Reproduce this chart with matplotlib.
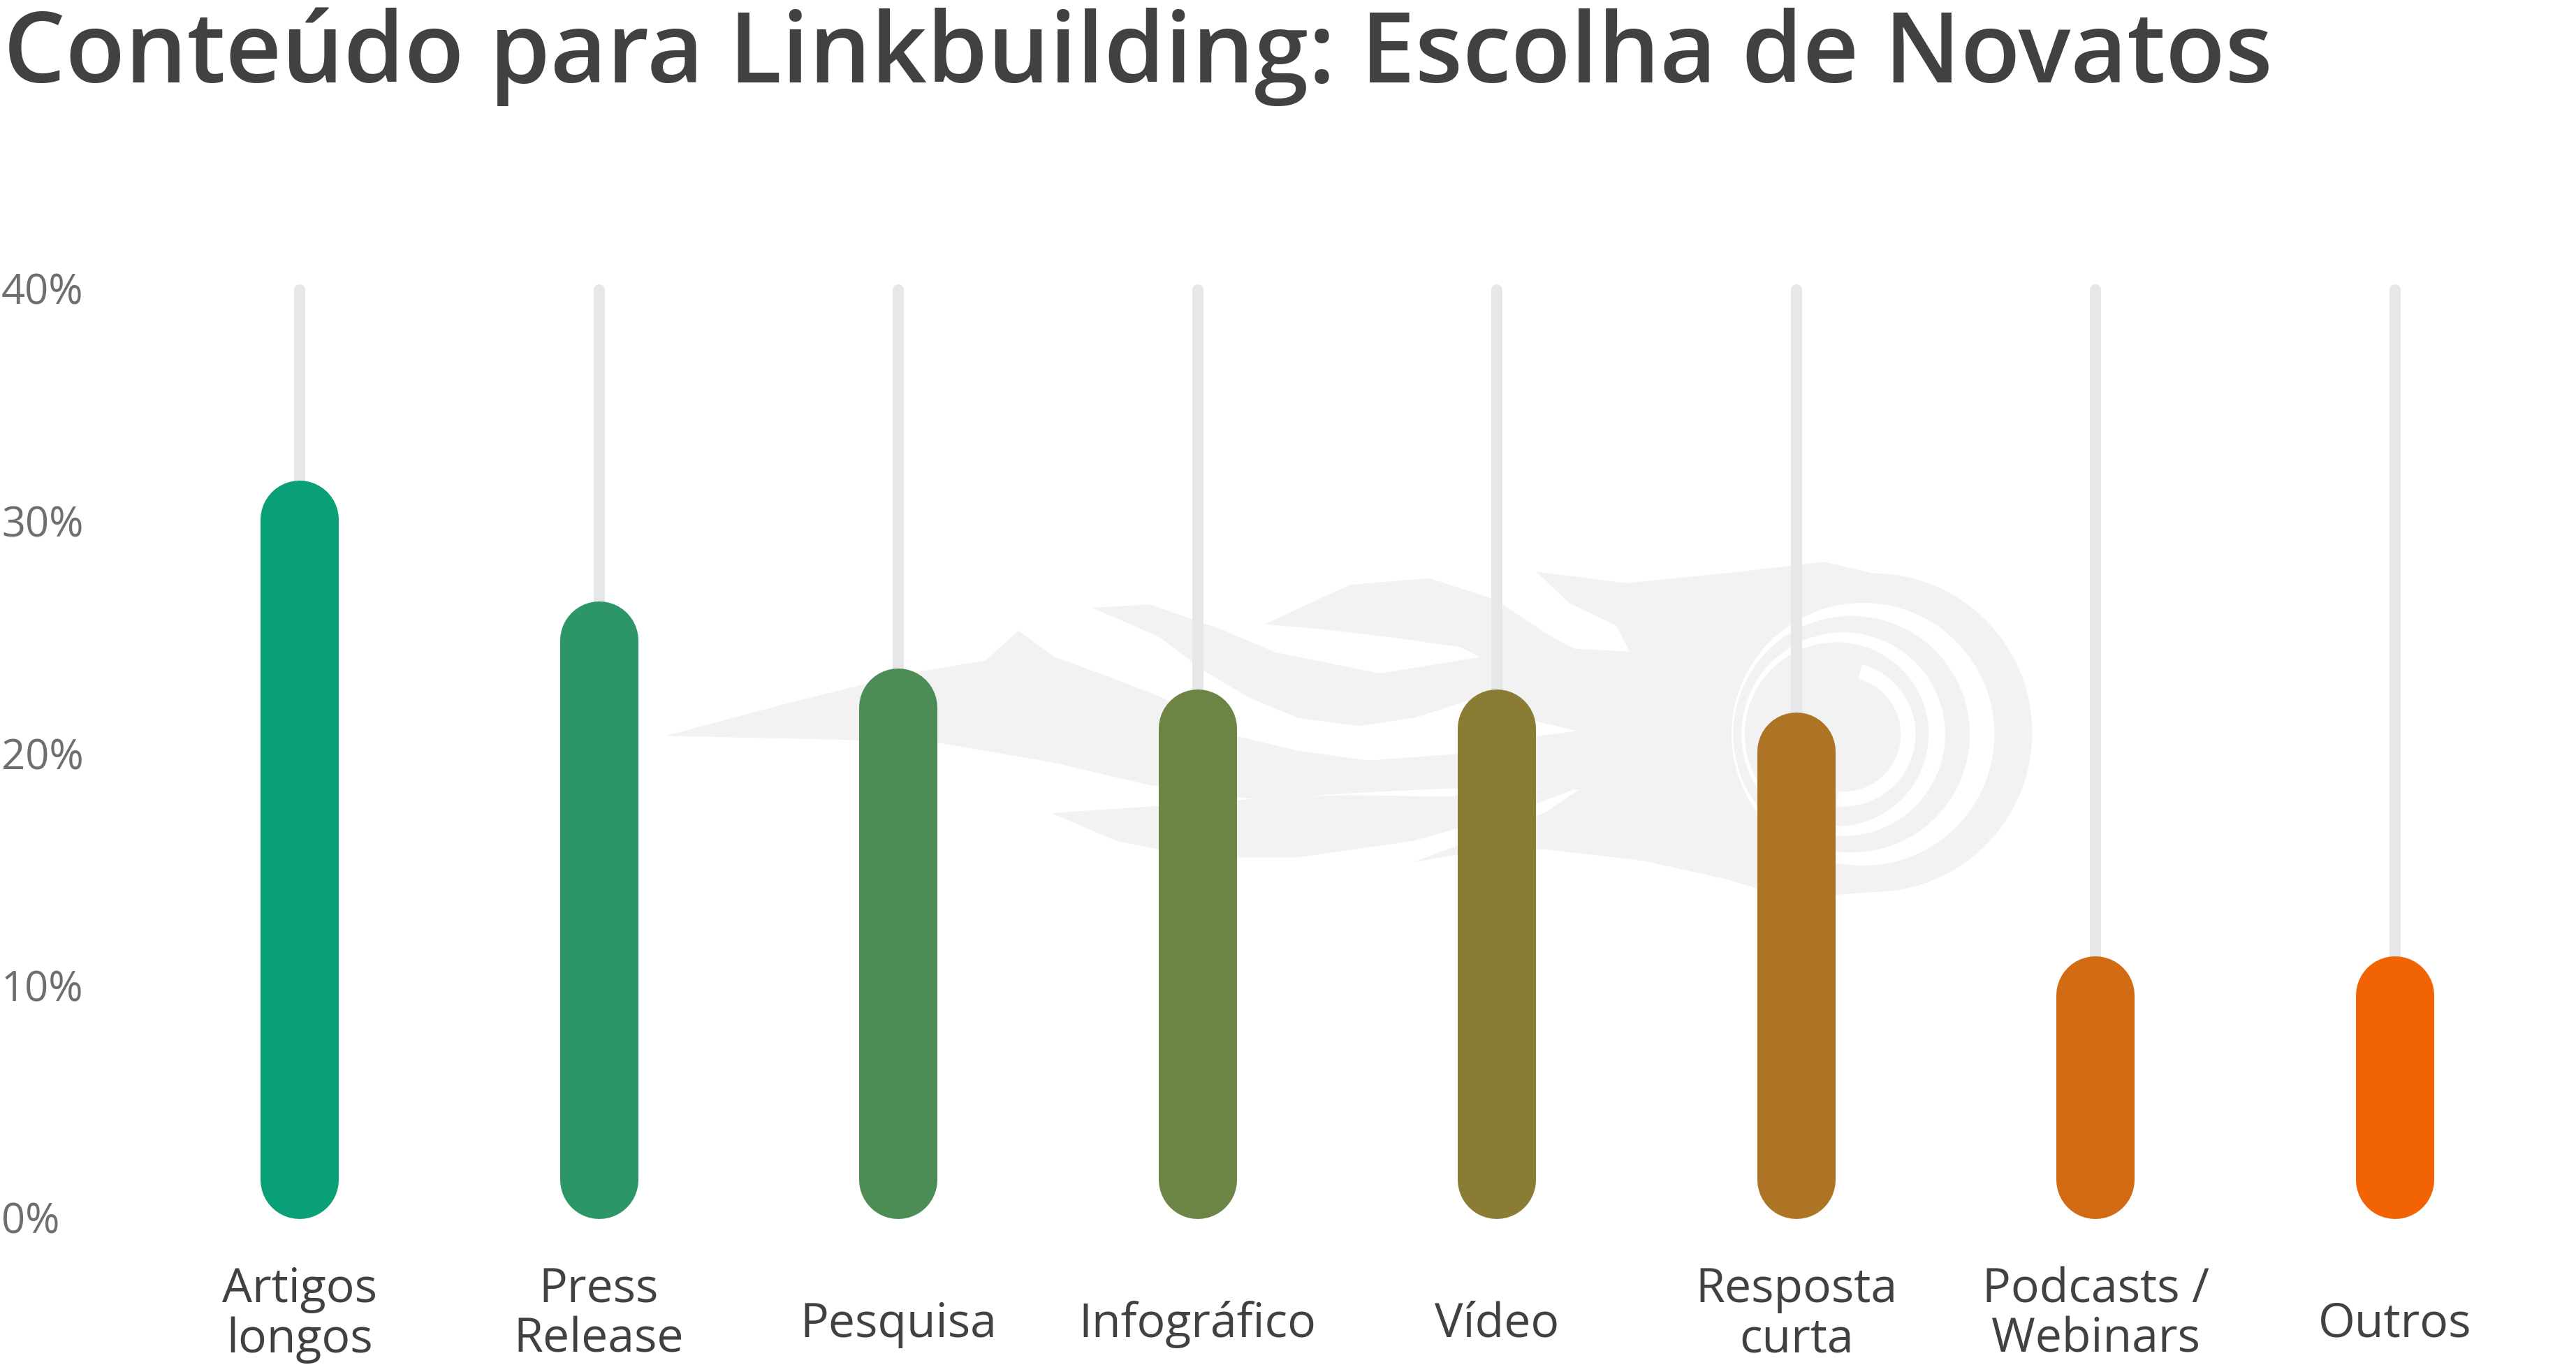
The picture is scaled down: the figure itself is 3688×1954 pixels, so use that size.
import matplotlib
matplotlib.use('Agg')
import matplotlib.pyplot as plt
from matplotlib import transforms
from matplotlib.patches import Polygon, Circle, Wedge

# ---------------- data ----------------
title = 'Conteúdo para Linkbuilding: Escolha de Novatos'
categories = ['Artigos\nlongos', 'Press\nRelease', 'Pesquisa', 'Infográfico',
              'Vídeo', 'Resposta\ncurta', 'Podcasts /\nWebinars', 'Outros']
values = [31.8, 26.6, 23.7, 22.8, 22.8, 21.8, 11.3, 11.3]
bar_colors = ['#0aa077', '#2c9668', '#4b8d55', '#6c8544',
              '#8b7c35', '#ae7425', '#d26b14', '#f26303']
yticks = [0, 10, 20, 30, 40]
ytick_labels = ['0%', '10%', '20%', '30%', '40%']
ymax = 40

# ---------------- layout ----------------
W, H = 3688, 1954
fig = plt.figure(figsize=(W / 100, H / 100), dpi=100)
fig.patch.set_facecolor('white')

ax_left_px, ax_right_px = 214.7, 3643.0
ax_top_px, ax_bot_px = 415.0, 1745.0
ax = fig.add_axes([ax_left_px / W, 1 - ax_bot_px / H,
                   (ax_right_px - ax_left_px) / W, (ax_bot_px - ax_top_px) / H])
ax.set_xlim(-0.5, len(categories) - 0.5)
ax.set_ylim(0, ymax)
ax.axis('off')

TEXT = '#414042'
TICK = '#6d6e71'
TRACK = '#e6e7e8'
WM = '#f2f2f2'

# ---------------- watermark (decorative fireball) ----------------
SX, SY = W / 1568, H / 831
wm = transforms.Affine2D().scale(SX / W, -SY / H).translate(0, 1) + fig.transFigure

def poly(pts, color=WM):
    p = Polygon(pts, closed=True, facecolor=color, edgecolor='none',
                transform=wm, zorder=-1)
    fig.add_artist(p)

def circ(c, r, color):
    p = Circle(c, r, facecolor=color, edgecolor='none', transform=wm, zorder=-1)
    fig.add_artist(p)

# tongues
poly([(405, 448), (480, 428), (553, 410), (600, 402), (620, 384), (642, 400),
      (675, 412), (706, 424), (752, 448), (790, 457), (833, 463), (887, 459),
      (930, 449), (960, 445), (1060, 440), (1060, 482), (1000, 482), (940, 480),
      (880, 480), (820, 483), (767, 487), (700, 478), (640, 464), (570, 452),
      (500, 450)])
poly([(665, 370), (700, 368), (743, 383), (776, 397), (840, 410), (901, 400),
      (960, 395), (1050, 400), (1050, 445), (960, 445), (930, 438), (892, 427),
      (861, 437), (827, 442), (790, 437), (761, 425), (732, 408), (706, 388)])
poly([(770, 380), (800, 366), (822, 356), (870, 352), (910, 365), (945, 388),
      (975, 404), (1010, 400), (1060, 390), (1060, 420), (1000, 410), (940, 403),
      (901, 400), (889, 394), (847, 388), (804, 383)])
poly([(935, 348), (990, 355), (1060, 348), (1110, 342), (1140, 349),
      (1140, 400), (1060, 400), (1000, 402), (985, 404), (975, 404),
      (992, 397), (984, 381), (955, 367)])
poly([(640, 495), (700, 491), (745, 488), (767, 486), (820, 484), (880, 485),
      (940, 480), (965, 478), (920, 495), (860, 512), (790, 522), (730, 522),
      (680, 512)])
poly([(860, 525), (900, 510), (940, 495), (965, 478), (1010, 468), (1070, 465),
      (1140, 543), (1090, 547), (1050, 535), (1000, 524), (940, 517), (900, 518)])
poly([(901, 400), (975, 404), (1050, 380), (1100, 350), (1140, 349),
      (1140, 543), (1080, 540), (1010, 470), (965, 478), (960, 445)])

# ball spiral
circ((1140, 446), 97, WM)
circ((1134, 447), 80, 'white')
circ((1127, 447), 72, WM)
circ((1122, 447), 62, 'white')
circ((1118, 447), 56, WM)
fig.add_artist(Wedge((1122, 447), 44, -75, 95, width=9, facecolor='white',
                     edgecolor='none', transform=wm, zorder=-1))
circ((1122, 447), 30, WM)

# ---------------- bars ----------------
fig.canvas.draw()
px_per_unit = (ax_bot_px - ax_top_px) / ymax
bar_w_px = 112
track_w_px = 16
r_data = (bar_w_px / 2) / px_per_unit

for i, (v, col) in enumerate(zip(values, bar_colors)):
    ax.plot([i, i], [r_data, ymax], color=TRACK, lw=track_w_px * 0.72,
            solid_capstyle='round', zorder=2, clip_on=False)
    ax.plot([i, i], [r_data, v - r_data], color=col, lw=bar_w_px * 0.72,
            solid_capstyle='round', zorder=3, clip_on=False)

# ---------------- y tick labels ----------------
ytrans = (transforms.blended_transform_factory(fig.transFigure, ax.transData)
          + transforms.ScaledTranslation(0, -21 / 100, fig.dpi_scale_trans))
for v, lab in zip(yticks, ytick_labels):
    fig.text(2 / W, v, lab, transform=ytrans, ha='left', va='baseline',
             fontsize=43, color=TICK, family=['Open Sans', 'DejaVu Sans'])

# ---------------- category labels ----------------
xtrans = transforms.blended_transform_factory(ax.transData, fig.transFigure)
for i, c in enumerate(categories):
    base_px = 1936 if '\n' in c else 1914
    ax.text(i, 1 - base_px / H, c, transform=xtrans, ha='center', va='baseline',
            multialignment='center', fontsize=49, linespacing=1.08,
            color=TEXT, family=['Open Sans', 'DejaVu Sans'], clip_on=False)

# ---------------- title ----------------
t = fig.text(5 / W, 1 - 118 / H, title, fontsize=100, color=TEXT,
             fontweight='semibold',
             family=['Open Sans', 'DejaVu Sans'], ha='left', va='baseline')
fig.canvas.draw()
rend = fig.canvas.get_renderer()
w = t.get_window_extent(rend).width
t.set_fontsize(100 * 3248 / w)

fig.savefig('out.png', dpi=100, facecolor='white')
